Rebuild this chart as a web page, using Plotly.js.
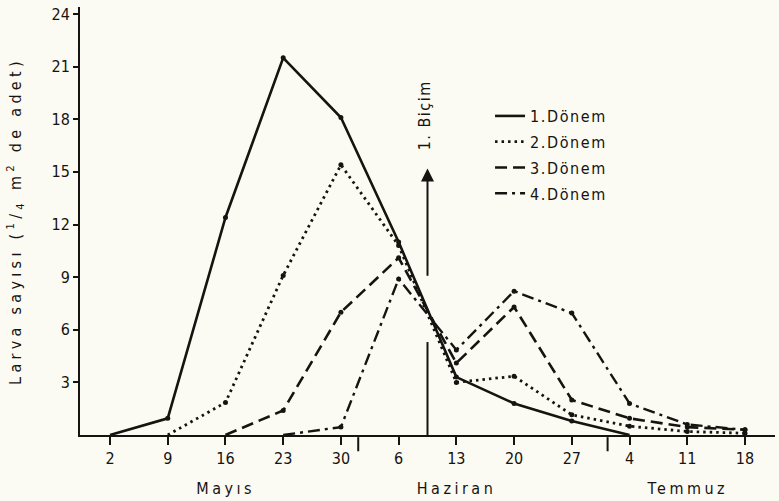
<!DOCTYPE html>
<html>
<head>
<meta charset="utf-8">
<script src="https://cdn.plot.ly/plotly-3.0.1.min.js"></script>
<style>
  html, body { margin: 0; padding: 0; background: #fcfbf3; }
  #chart { width: 779px; height: 501px; }
  .ytitle { letter-spacing: 4.3px; }
  .spaced .annotation-text { letter-spacing: 3.5px; }
  .lightspaced .annotation-text { letter-spacing: 1.5px; }
  .legendtext { letter-spacing: 1.6px; }
</style>
</head>
<body>
<div id="chart"></div>
<script>
// Week labels (x axis)
const categories = ['2', '9', '16', '23', '30', '6', '13', '20', '27', '4', '11', '18'];
// Larva counts per 1/4 m²
const donem1 = [0, 0.95, 12.4, 21.5, 18.1, 11.0, 3.3, 1.8, 0.8, 0, null, null];
const donem2 = [null, 0, 1.85, 9.1, 15.4, 10.8, 3.0, 3.35, 1.15, 0.5, 0.2, 0.1];
const donem3 = [null, null, 0, 1.4, 7.0, 10.1, 4.1, 7.3, 2.0, 0.95, 0.45, 0.3];
const donem4 = [null, null, null, 0, 0.45, 8.9, 4.85, 8.2, 6.95, 1.8, 0.6, 0.3];
const seriesNames = ['1.Dönem', '2.Dönem', '3.Dönem', '4.Dönem'];
const yTicks = [3, 6, 9, 12, 15, 18, 21, 24];
const months = ['Mayıs', 'Haziran', 'Temmuz'];

const ink = '#161310';
const font = 'DejaVu Sans Condensed, DejaVu Sans, sans-serif';
const series = [donem1, donem2, donem3, donem4];
const dashes = ['solid', '2.5px,4px', '12px,6px', '12px,5px,3px,5px'];
const widths = [2.6, 2.8, 2.6, 2.4];

const traces = [];
series.forEach((ys, i) => {
  traces.push({
    x: categories, y: ys, type: 'scatter', mode: 'lines', name: seriesNames[i],
    legendgroup: 'g' + i,
    line: { color: ink, width: widths[i], dash: dashes[i] },
    connectgaps: false, cliponaxis: false
  });
});
series.forEach((ys, i) => {
  traces.push({
    x: categories, y: ys.map(v => (v === 0 ? null : v)), type: 'scatter', mode: 'markers',
    showlegend: false, hoverinfo: 'skip', legendgroup: 'g' + i,
    marker: { color: ink, size: 5 }, cliponaxis: false
  });
});

const layout = {
  width: 779, height: 501,
  margin: { l: 80, r: 4, t: 7, b: 66 },
  paper_bgcolor: '#fcfbf3', plot_bgcolor: 'rgba(0,0,0,0)',
  font: { family: font, color: ink, size: 16 },
  showlegend: true,
  legend: {
    x: 0.59, y: 0.785, xanchor: 'left', yanchor: 'top',
    bgcolor: 'rgba(0,0,0,0)', font: { family: font, size: 16, color: ink },
    itemwidth: 30, tracegroupgap: 2
  },
  xaxis: {
    type: 'category', range: [-0.52, 11.52],
    showline: true, linecolor: ink, linewidth: 2,
    ticks: 'outside', ticklen: 8, tickwidth: 2, tickcolor: ink,
    showgrid: false, zeroline: false,
    tickfont: { family: font, size: 16, color: ink }
  },
  yaxis: {
    range: [0, 24.4], tickvals: yTicks,
    showline: true, linecolor: ink, linewidth: 2,
    ticks: 'outside', ticklen: 5, tickwidth: 2, tickcolor: ink,
    showgrid: false, zeroline: false,
    tickfont: { family: font, size: 16, color: ink },
    title: { text: 'Larva sayısı (<sup>1</sup>/<sub>4</sub> m<sup>2</sup> de adet)', font: { family: font, size: 16, color: ink }, standoff: 26 }
  },
  shapes: [
    { type: 'line', xref: 'x', yref: 'paper', x0: 4.3, x1: 4.3, y0: -0.005, y1: -0.038, line: { color: ink, width: 2 } },
    { type: 'line', xref: 'x', yref: 'paper', x0: 8.62, x1: 8.62, y0: -0.005, y1: -0.038, line: { color: ink, width: 2 } },
    { type: 'line', xref: 'x', yref: 'y', x0: 5.5, x1: 5.5, y0: 0, y1: 5.3, line: { color: ink, width: 2 } }
  ],
  annotations: [
    { x: 5.5, y: 15.2, xref: 'x', yref: 'y', ax: 5.5, ay: 9.0, axref: 'x', ayref: 'y',
      showarrow: true, arrowhead: 2, arrowsize: 1.3, arrowwidth: 2, arrowcolor: ink, text: '' },
    { x: 5.45, y: 18.2, xref: 'x', yref: 'y', text: '1. Biçim', textangle: -90, showarrow: false,
      font: { family: font, size: 16, color: ink } },
    { x: 2.0, y: -0.124, xref: 'x', yref: 'paper', yanchor: 'middle', text: months[0], showarrow: false,
      font: { family: font, size: 16, color: ink } },
    { x: 6.0, y: -0.124, xref: 'x', yref: 'paper', yanchor: 'middle', text: months[1], showarrow: false,
      font: { family: font, size: 16, color: ink } },
    { x: 10.0, y: -0.124, xref: 'x', yref: 'paper', yanchor: 'middle', text: months[2], showarrow: false,
      font: { family: font, size: 16, color: ink } }
  ]
};

Plotly.newPlot('chart', traces, layout, { displayModeBar: false, staticPlot: true }).then(() => {
  const anns = document.querySelectorAll('.annotation');
  anns.forEach((a, i) => {
    if (i >= 2) a.classList.add('spaced');
    else if (i === 1) a.classList.add('lightspaced');
  });
});
</script>
</body>
</html>
